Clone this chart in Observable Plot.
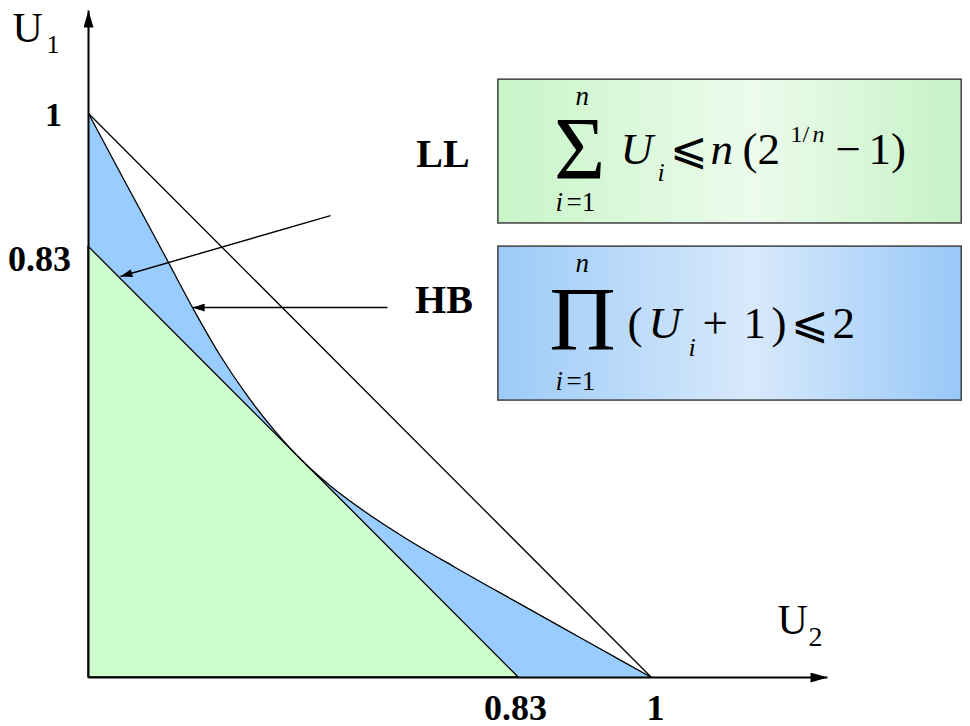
<!DOCTYPE html>
<html><head><meta charset="utf-8">
<script src="https://cdn.jsdelivr.net/npm/d3@7"></script>
<script src="https://cdn.jsdelivr.net/npm/@observablehq/plot@0.6"></script>
<style>html,body{margin:0;padding:0;background:#fff;} #chart{width:970px;height:726px;overflow:hidden}</style>
</head><body><div id="chart"></div>
<script>
// ---- Data (U2 on x, U1 on y) ----
// Hyperbolic bound (HB) boundary curve
const hbX = [0, 0.067, 0.134, 0.188, 0.2325, 0.2797, 0.3295, 0.382, 0.4282, 0.4893, 0.5632, 0.65, 0.76, 0.88, 1];
const hbY = [1, 0.875, 0.751, 0.650, 0.5731, 0.5028, 0.4391, 0.382, 0.3409, 0.2952, 0.2469, 0.196, 0.134, 0.067, 0];
// Liu & Layland bound (LL) line, labelled 0.83 on both axes
const llX = [0, 0.764];
const llY = [0.764, 0];
// U1 + U2 = 1 line
const sumX = [0, 1];
const sumY = [1, 0];
// Axis arrows
const axisX1 = [0, 0], axisY1 = [0, 0], axisX2 = [1.3126, 0], axisY2 = [0, 1.1826];
// Pointer arrows (LL, HB)
const ptrX1 = [0.430, 0.531], ptrY1 = [0.819, 0.656], ptrX2 = [0.0568, 0.185], ptrY2 = [0.711, 0.656];
// Formula boxes
const boxX1 = [0.728, 0.728], boxX2 = [1.551, 1.551], boxY1 = [0.805, 0.491], boxY2 = [1.060, 0.764];

// Tick / axis labels
const boldLabels = [
  {t: "LL", u: 0.6297, v: 0.9043, s: 40},
  {t: "HB", u: 0.6314, v: 0.6454, s: 40},
  {t: "1", u: -0.0622, v: 0.9770, s: 34},
  {t: "0.83", u: -0.0870, v: 0.7216, s: 36},
  {t: "0.83", u: 0.7584, v: -0.0745, s: 36},
  {t: "1", u: 1.0071, v: -0.0745, s: 36}
];
const axisNames = [
  {t: "U", u: -0.1350, v: 1.1259, s: 42},
  {t: "1", u: -0.0746, v: 1.1064, s: 26},
  {t: "U", u: 1.2238, v: 0.0780, s: 42},
  {t: "2", u: 1.2789, v: 0.0567, s: 28}
];
// Formula pieces
const bigOps = [
  {t: "Σ", u: 0.8721, v: 0.8865, s: 88},
  {t: "Π", u: 0.8774, v: 0.5798, s: 92}
];
const formulaUpright = [
  {t: "=1", u: 0.8490, v: 0.8280, s: 27},
  {t: "⩽", u: 1.0337, v: 0.9113, s: 45},
  {t: "(2", u: 1.1616, v: 0.9113, s: 45},
  {t: "1/", u: 1.2469, v: 0.9486, s: 24},
  {t: "−", u: 1.3268, v: 0.9113, s: 45},
  {t: "1)", u: 1.3854, v: 0.9113, s: 45},
  {t: "=1", u: 0.8490, v: 0.5089, s: 27},
  {t: "(", u: 0.9574, v: 0.6028, s: 45},
  {t: "+", u: 1.0906, v: 0.6028, s: 45},
  {t: "1", u: 1.1634, v: 0.6028, s: 45},
  {t: ")", u: 1.2131, v: 0.6028, s: 45},
  {t: "⩽", u: 1.2469, v: 0.6028, s: 45},
  {t: "2", u: 1.3215, v: 0.6028, s: 45}
];
const formulaItalic = [
  {t: "n", u: 0.8650, v: 1.0142, s: 27},
  {t: "i", u: 0.8295, v: 0.8280, s: 27},
  {t: "U", u: 0.9449, v: 0.9113, s: 45},
  {t: "i", u: 1.0107, v: 0.8812, s: 26},
  {t: "n", u: 1.1048, v: 0.9113, s: 45},
  {t: "n", u: 1.2860, v: 0.9486, s: 24},
  {t: "n", u: 0.8650, v: 0.7181, s: 27},
  {t: "i", u: 0.8295, v: 0.5089, s: 27},
  {t: "U", u: 0.9947, v: 0.6028, s: 45},
  {t: "i", u: 1.0657, v: 0.5709, s: 26}
];

const serif = "'Liberation Serif', 'Times New Roman', 'DejaVu Serif', serif";
const hbIdx = d3.range(hbX.length);
const llIdx = d3.range(llX.length);
const sumIdx = d3.range(sumX.length);
const axIdx = d3.range(axisX1.length);
const ptrIdx = d3.range(ptrX1.length);

const txt = (data, opts) => Plot.text(data, {x: "u", y: "v", text: "t", fontSize: "s", fontFamily: serif, lineAnchor: "bottom", fill: "black", ...opts});

const plot = Plot.plot({
  width: 970,
  height: 726,
  x: {domain: [0, 1], range: [88, 651], axis: null},
  y: {domain: [0, 1], range: [677, 113], axis: null},
  style: {background: "white", overflow: "visible"},
  marks: [
    Plot.rect([0], {x1: () => boxX1[0], x2: () => boxX2[0], y1: () => boxY1[0], y2: () => boxY2[0], fill: "url(#gGreen)", stroke: "#404040", strokeWidth: 1.5}),
    Plot.rect([1], {x1: () => boxX1[1], x2: () => boxX2[1], y1: () => boxY1[1], y2: () => boxY2[1], fill: "url(#gBlue)", stroke: "#404040", strokeWidth: 1.5}),
    Plot.areaY(hbIdx, {x: i => hbX[i], y: i => hbY[i], fill: "#99ccff", fillOpacity: 1, curve: "monotone-x"}),
    Plot.areaY(llIdx, {x: i => llX[i], y: i => llY[i], fill: "#ccffcc", fillOpacity: 1, stroke: "black", strokeWidth: 1.3}),
    Plot.line(hbIdx, {x: i => hbX[i], y: i => hbY[i], stroke: "black", strokeWidth: 1.3, curve: "monotone-x"}),
    Plot.line(sumIdx, {x: i => sumX[i], y: i => sumY[i], stroke: "black", strokeWidth: 1.3}),
    Plot.link(axIdx, {x1: i => axisX1[i], y1: i => axisY1[i], x2: i => axisX2[i], y2: i => axisY2[i], stroke: "black", strokeWidth: 2}),
    Plot.link(ptrIdx, {x1: i => ptrX1[i], y1: i => ptrY1[i], x2: i => ptrX2[i], y2: i => ptrY2[i], stroke: "black", strokeWidth: 1.4}),
    txt(boldLabels, {fontWeight: "bold", textAnchor: "middle"}),
    txt(axisNames, {textAnchor: "start"}),
    txt(bigOps, {textAnchor: "middle"}),
    txt(formulaUpright, {textAnchor: "start"}),
    txt(formulaItalic, {textAnchor: "start", fontStyle: "italic"})
  ]
});

const svg = d3.select(plot);
const defs = svg.insert("defs", ":first-child");
function grad(id, stops) {
  const g = defs.append("linearGradient").attr("id", id).attr("x1", "0%").attr("x2", "100%").attr("y1", "0%").attr("y2", "0%");
  stops.forEach(([o, c]) => g.append("stop").attr("offset", o).attr("stop-color", c));
}
grad("gGreen", [["0%", "#c8f5c8"], ["55%", "#ecfbec"], ["100%", "#c6f2c6"]]);
grad("gBlue", [["0%", "#9ccbf8"], ["55%", "#d8e9fb"], ["100%", "#98c8f8"]]);
function marker(id, len, half) {
  const m = defs.append("marker").attr("id", id).attr("viewBox", `0 ${-half} ${len} ${2 * half}`)
    .attr("refX", len).attr("refY", 0).attr("markerWidth", len).attr("markerHeight", 2 * half)
    .attr("markerUnits", "userSpaceOnUse").attr("orient", "auto");
  m.append("path").attr("d", `M0,${-half}L${len},0L0,${half}Z`).attr("fill", "black");
}
marker("axHead", 17, 5);
marker("ptrHead", 12, 4);
const linkGroups = svg.selectAll('g[aria-label="link"]').nodes();
if (linkGroups[0]) d3.select(linkGroups[0]).selectAll("path").attr("marker-end", "url(#axHead)");
if (linkGroups[1]) d3.select(linkGroups[1]).selectAll("path").attr("marker-end", "url(#ptrHead)");

document.getElementById("chart").appendChild(plot);
</script></body></html>
